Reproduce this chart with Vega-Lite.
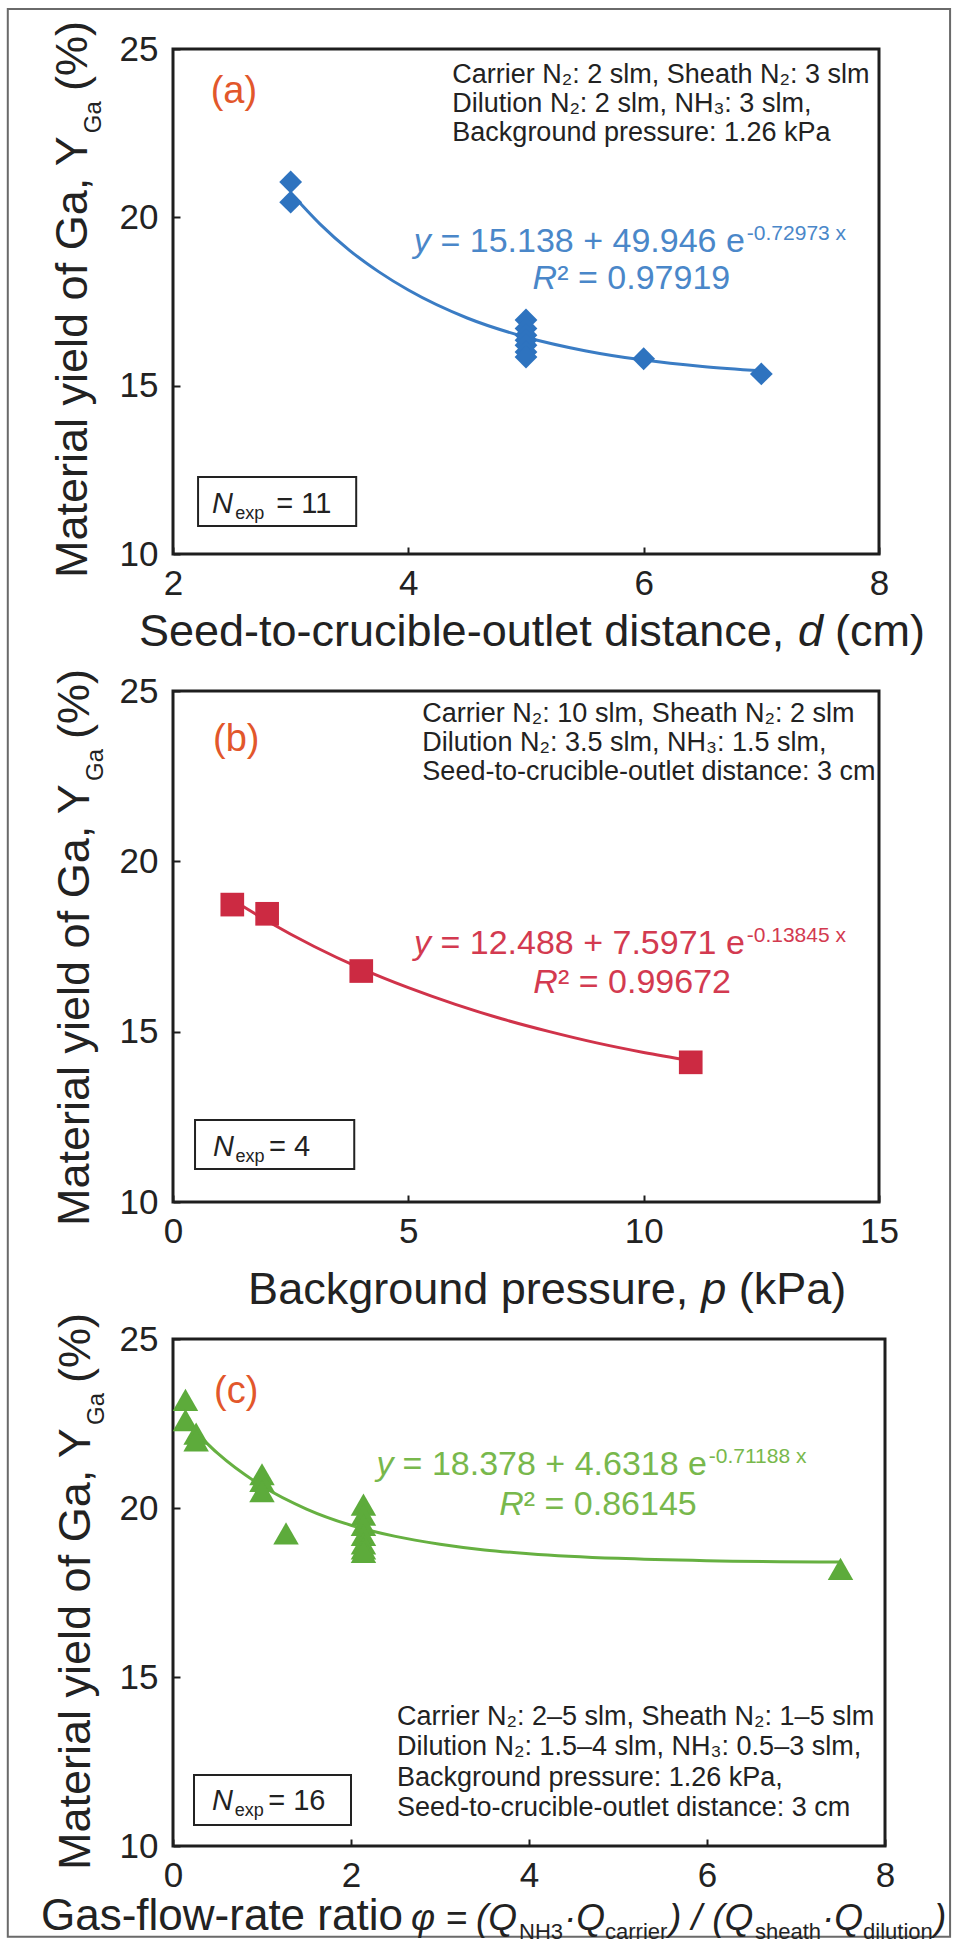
{
  "$schema": "https://vega.github.io/schema/vega-lite/v6.json",
  "background": "white",
  "padding": {"left": 5, "top": 6, "right": 6, "bottom": 6},
  "bounds": "flush",
  "spacing": 137,
  "config": {
    "view": {"stroke": "#1e1e1e", "strokeWidth": 3},
    "font": "Liberation Sans",
    "axis": {
      "domain": false, "grid": false, "ticks": true, "tickSize": -7, "tickWidth": 2, "tickColor": "#1e1e1e",
      "labelFont": "Liberation Sans", "labelFontSize": 35, "labelColor": "#222222", "labelFlush": false, "labelOverlap": false,
      "titleFont": "Liberation Sans", "titleFontSize": 45, "titleFontWeight": "normal", "titleColor": "#222222"
    },
    "axisY": {"labelPadding": 22},
    "axisX": {"labelPadding": 19}
  },
  "datasets": {
    "frame": [{"x":0.596,"x2":8.604,"y":26.186,"y2":-31.075}],
    "fitA": [{"x":3,"y":20.73},{"x":3.25,"y":19.80},{"x":3.5,"y":19.02},{"x":3.75,"y":18.38},{"x":4,"y":17.84},{"x":4.5,"y":17.01},{"x":5,"y":16.44},{"x":5.5,"y":16.04},{"x":6,"y":15.76},{"x":6.5,"y":15.57},{"x":7,"y":15.44}],
    "ptsA": [{"x":3,"y":21.05},{"x":3,"y":20.45},{"x":5,"y":16.95},{"x":5,"y":16.7},{"x":5,"y":16.5},{"x":5,"y":16.35},{"x":5,"y":16.2},{"x":5,"y":16.0},{"x":5,"y":15.85},{"x":6,"y":15.8},{"x":7,"y":15.35}],
    "fitB": [{"x":1.26,"y":18.87},{"x":2,"y":18.25},{"x":3,"y":17.50},{"x":4,"y":16.85},{"x":5,"y":16.29},{"x":6,"y":15.80},{"x":7,"y":15.37},{"x":8,"y":15.00},{"x":9,"y":14.67},{"x":10,"y":14.39},{"x":11,"y":14.15}],
    "ptsB": [{"x":1.26,"y":18.73},{"x":2,"y":18.46},{"x":4,"y":16.78},{"x":11,"y":14.1}],
    "fitC": [{"x":0.1,"y":22.69},{"x":0.5,"y":21.62},{"x":1,"y":20.65},{"x":1.5,"y":19.97},{"x":2,"y":19.49},{"x":2.5,"y":19.16},{"x":3,"y":18.93},{"x":3.5,"y":18.76},{"x":4,"y":18.65},{"x":5,"y":18.51},{"x":6,"y":18.44},{"x":7.5,"y":18.40}],
    "ptsC": [{"x":0.14,"y":23.2},{"x":0.14,"y":22.6},{"x":0.26,"y":22.2},{"x":0.26,"y":22.0},{"x":1.0,"y":21.0},{"x":1.0,"y":20.8},{"x":1.0,"y":20.5},{"x":1.27,"y":19.25},{"x":2.14,"y":20.1},{"x":2.14,"y":19.8},{"x":2.14,"y":19.5},{"x":2.14,"y":19.2},{"x":2.14,"y":18.95},{"x":2.14,"y":18.8},{"x":2.14,"y":18.7},{"x":7.5,"y":18.2}],
    "labA": [{"x":2.32,"y":23.39,"t":"(a)"}],
    "labB": [{"x":0.851,"y":23.24,"t":"(b)"}],
    "labC": [{"x":0.461,"y":23.11,"t":"(c)"}],
    "condA": [{"x":4.374,"y":23.99,"t":"Carrier N₂: 2 slm, Sheath N₂: 3 slm\nDilution N₂: 2 slm, NH₃: 3 slm,\nBackground pressure: 1.26 kPa"}],
    "condB": [{"x":5.298,"y":24.09,"t":"Carrier N₂: 10 slm, Sheath N₂: 2 slm\nDilution N₂: 3.5 slm, NH₃: 1.5 slm,\nSeed-to-crucible-outlet distance: 3 cm"}],
    "condC": [{"x":2.517,"y":13.58,"t":"Carrier N₂: 2–5 slm, Sheath N₂: 1–5 slm\nDilution N₂: 1.5–4 slm, NH₃: 0.5–3 slm,\nBackground pressure: 1.26 kPa,\nSeed-to-crucible-outlet distance: 3 cm"}],
    "eqA": [{"x":6.86,"y":18.97,"t":"= 15.138 + 49.946 e"},{"x":6.736,"y":17.87,"t":"² = 0.97919"}],
    "itA": [{"x":4.191,"y":18.97,"t":"y"}],
    "rA": [{"x":5.055,"y":17.87,"t":"R"}],
    "supA": [{"x":6.877,"y":18.97,"t":"-0.72973 x"}],
    "eqB": [{"x":12.15,"y":17.28,"t":"= 12.488 + 7.5971 e"},{"x":11.856,"y":16.13,"t":"² = 0.99672"}],
    "itB": [{"x":5.479,"y":17.28,"t":"y"}],
    "rB": [{"x":7.654,"y":16.13,"t":"R"}],
    "supB": [{"x":12.19,"y":17.28,"t":"-0.13845 x"}],
    "eqC": [{"x":6.0,"y":20.98,"t":"= 18.378 + 4.6318 e"},{"x":5.885,"y":19.79,"t":"² = 0.86145"}],
    "itC": [{"x":2.478,"y":20.98,"t":"y"}],
    "rC": [{"x":3.666,"y":19.79,"t":"R"}],
    "supC": [{"x":6.02,"y":20.98,"t":"-0.71188 x"}],
    "boxA": [{"x":2.213,"x2":3.557,"y":12.29,"y2":10.83}],
    "boxB": [{"x":0.468,"x2":3.851,"y":12.41,"y2":10.97}],
    "boxC": [{"x":0.236,"x2":2.0,"y":12.10,"y2":10.62}],
    "nA": [{"x":2.332,"y":11.22,"t":"N"}],
    "expA": [{"x":2.53,"y":11.22,"t":"exp"}],
    "numA": [{"x":2.877,"y":11.22,"t":"= 11"}],
    "nB": [{"x":0.851,"y":11.35,"t":"N"}],
    "expB": [{"x":1.33,"y":11.35,"t":"exp"}],
    "numB": [{"x":2.04,"y":11.35,"t":"= 4"}],
    "nC": [{"x":0.438,"y":11.07,"t":"N"}],
    "expC": [{"x":0.695,"y":11.07,"t":"exp"}],
    "numC": [{"x":1.07,"y":11.07,"t":"= 16"}],
    "ytA": [{"x":1.268,"y":9.287,"t":"Material yield of Ga, Y"},{"x":1.268,"y":23.75,"t":"(%)"}],
    "ysA": [{"x":1.387,"y":22.50,"t":"Ga"}],
    "ytB": [{"x":-1.787,"y":9.296,"t":"Material yield of Ga, Y"},{"x":-1.787,"y":23.59,"t":"(%)"}],
    "ysB": [{"x":-1.489,"y":22.357,"t":"Ga"}],
    "ytC": [{"x":-0.933,"y":9.29,"t":"Material yield of Ga, Y"},{"x":-0.933,"y":23.698,"t":"(%)"}],
    "ysC": [{"x":-0.775,"y":22.456,"t":"Ga"}],
    "xtA": [{"x":1.711,"y":7.268,"t":"Seed-to-crucible-outlet distance,"},{"x":7.626,"y":7.268,"t":"(cm)"}],
    "xiA": [{"x":7.311,"y":7.268,"t":"d"}],
    "xtB": [{"x":1.596,"y":7.006,"t":"Background pressure,"},{"x":12.021,"y":7.006,"t":"(kPa)"}],
    "xiB": [{"x":11.223,"y":7.006,"t":"p"}],
    "xtC": [{"x":-1.483,"y":7.515,"t":"Gas-flow-rate ratio"}],
    "xfC": [{"x":2.674,"y":7.515,"t":"φ ="},{"x":3.404,"y":7.515,"t":"(Q"},{"x":4.393,"y":7.515,"t":"·Q"},{"x":5.573,"y":7.515,"t":") / (Q"},{"x":7.292,"y":7.515,"t":"·Q"},{"x":8.551,"y":7.515,"t":")"}],
    "xsC": [{"x":3.888,"y":7.515,"t":"NH3"},{"x":4.854,"y":7.515,"t":"carrier"},{"x":6.539,"y":7.515,"t":"sheath"},{"x":7.753,"y":7.515,"t":"dilution"}]
  },
  "vconcat": [
    {
      "width": 706, "height": 505,
      "encoding": {
        "x": {"field": "x", "type": "quantitative", "scale": {"domain": [2, 8], "nice": false, "zero": false}, "axis": {"values": [2, 4, 6, 8], "title": null}},
        "y": {"field": "y", "type": "quantitative", "scale": {"domain": [10, 25], "nice": false, "zero": false}, "axis": {"values": [10, 15, 20, 25], "title": null}}
      },
      "layer": [
        {"data": {"name": "frame"}, "mark": {"type": "rect", "fill": "white", "fillOpacity": 0, "stroke": "#6a6a6a", "strokeWidth": 2}, "encoding": {"x2": {"field": "x2"}, "y2": {"field": "y2"}}},
        {"data": {"name": "fitA"}, "mark": {"type": "line", "color": "#3a7cc4", "strokeWidth": 3, "interpolate": "monotone"}},
        {"data": {"name": "ptsA"}, "mark": {"type": "point", "shape": "diamond", "filled": true, "size": 520, "color": "#2e73bf", "opacity": 1}},
        {"data": {"name": "labA"}, "mark": {"type": "text", "align": "left", "baseline": "alphabetic", "fontSize": 38, "color": "#e2572b"}, "encoding": {"text": {"field": "t"}}},
        {"data": {"name": "condA"}, "mark": {"type": "text", "align": "left", "baseline": "alphabetic", "fontSize": 27, "lineBreak": "\n", "lineHeight": 29, "color": "#222222"}, "encoding": {"text": {"field": "t"}}},
        {"data": {"name": "eqA"}, "mark": {"type": "text", "align": "right", "baseline": "alphabetic", "fontSize": 34, "color": "#4a87c9"}, "encoding": {"text": {"field": "t"}}},
        {"data": {"name": "itA"}, "mark": {"type": "text", "align": "right", "baseline": "alphabetic", "fontSize": 34, "fontStyle": "italic", "color": "#4a87c9"}, "encoding": {"text": {"field": "t"}}},
        {"data": {"name": "rA"}, "mark": {"type": "text", "align": "left", "baseline": "alphabetic", "fontSize": 34, "fontStyle": "italic", "color": "#4a87c9"}, "encoding": {"text": {"field": "t"}}},
        {"data": {"name": "supA"}, "mark": {"type": "text", "align": "left", "baseline": "alphabetic", "fontSize": 21, "dy": -12, "color": "#4a87c9"}, "encoding": {"text": {"field": "t"}}},
        {"data": {"name": "boxA"}, "mark": {"type": "rect", "fill": "white", "stroke": "#222222", "strokeWidth": 2}, "encoding": {"x2": {"field": "x2"}, "y2": {"field": "y2"}}},
        {"data": {"name": "nA"}, "mark": {"type": "text", "align": "left", "baseline": "alphabetic", "fontSize": 29, "fontStyle": "italic", "color": "#222222"}, "encoding": {"text": {"field": "t"}}},
        {"data": {"name": "expA"}, "mark": {"type": "text", "align": "left", "baseline": "alphabetic", "fontSize": 18, "dy": 6, "color": "#222222"}, "encoding": {"text": {"field": "t"}}},
        {"data": {"name": "numA"}, "mark": {"type": "text", "align": "left", "baseline": "alphabetic", "fontSize": 29, "color": "#222222"}, "encoding": {"text": {"field": "t"}}},
        {"data": {"name": "ytA"}, "mark": {"type": "text", "align": "left", "baseline": "alphabetic", "angle": 270, "fontSize": 45, "color": "#222222"}, "encoding": {"text": {"field": "t"}}},
        {"data": {"name": "ysA"}, "mark": {"type": "text", "align": "left", "baseline": "alphabetic", "angle": 270, "fontSize": 24, "color": "#222222"}, "encoding": {"text": {"field": "t"}}},
        {"data": {"name": "xtA"}, "mark": {"type": "text", "align": "left", "baseline": "alphabetic", "fontSize": 45, "color": "#222222"}, "encoding": {"text": {"field": "t"}}},
        {"data": {"name": "xiA"}, "mark": {"type": "text", "align": "left", "baseline": "alphabetic", "fontSize": 45, "fontStyle": "italic", "color": "#222222"}, "encoding": {"text": {"field": "t"}}}
      ]
    },
    {
      "width": 706, "height": 511,
      "encoding": {
        "x": {"field": "x", "type": "quantitative", "scale": {"domain": [0, 15], "nice": false}, "axis": {"values": [0, 5, 10, 15], "title": null}},
        "y": {"field": "y", "type": "quantitative", "scale": {"domain": [10, 25], "nice": false, "zero": false}, "axis": {"values": [10, 15, 20, 25], "title": null}}
      },
      "layer": [
        {"data": {"name": "fitB"}, "mark": {"type": "line", "color": "#d0334a", "strokeWidth": 3, "interpolate": "monotone"}},
        {"data": {"name": "ptsB"}, "mark": {"type": "point", "shape": "square", "filled": true, "size": 560, "color": "#cc2a42", "opacity": 1}},
        {"data": {"name": "labB"}, "mark": {"type": "text", "align": "left", "baseline": "alphabetic", "fontSize": 38, "color": "#e2572b"}, "encoding": {"text": {"field": "t"}}},
        {"data": {"name": "condB"}, "mark": {"type": "text", "align": "left", "baseline": "alphabetic", "fontSize": 27, "lineBreak": "\n", "lineHeight": 29, "color": "#222222"}, "encoding": {"text": {"field": "t"}}},
        {"data": {"name": "eqB"}, "mark": {"type": "text", "align": "right", "baseline": "alphabetic", "fontSize": 34, "color": "#d33a50"}, "encoding": {"text": {"field": "t"}}},
        {"data": {"name": "itB"}, "mark": {"type": "text", "align": "right", "baseline": "alphabetic", "fontSize": 34, "fontStyle": "italic", "color": "#d33a50"}, "encoding": {"text": {"field": "t"}}},
        {"data": {"name": "rB"}, "mark": {"type": "text", "align": "left", "baseline": "alphabetic", "fontSize": 34, "fontStyle": "italic", "color": "#d33a50"}, "encoding": {"text": {"field": "t"}}},
        {"data": {"name": "supB"}, "mark": {"type": "text", "align": "left", "baseline": "alphabetic", "fontSize": 21, "dy": -12, "color": "#d33a50"}, "encoding": {"text": {"field": "t"}}},
        {"data": {"name": "boxB"}, "mark": {"type": "rect", "fill": "white", "stroke": "#222222", "strokeWidth": 2}, "encoding": {"x2": {"field": "x2"}, "y2": {"field": "y2"}}},
        {"data": {"name": "nB"}, "mark": {"type": "text", "align": "left", "baseline": "alphabetic", "fontSize": 29, "fontStyle": "italic", "color": "#222222"}, "encoding": {"text": {"field": "t"}}},
        {"data": {"name": "expB"}, "mark": {"type": "text", "align": "left", "baseline": "alphabetic", "fontSize": 18, "dy": 6, "color": "#222222"}, "encoding": {"text": {"field": "t"}}},
        {"data": {"name": "numB"}, "mark": {"type": "text", "align": "left", "baseline": "alphabetic", "fontSize": 29, "color": "#222222"}, "encoding": {"text": {"field": "t"}}},
        {"data": {"name": "ytB"}, "mark": {"type": "text", "align": "left", "baseline": "alphabetic", "angle": 270, "fontSize": 45, "color": "#222222"}, "encoding": {"text": {"field": "t"}}},
        {"data": {"name": "ysB"}, "mark": {"type": "text", "align": "left", "baseline": "alphabetic", "angle": 270, "fontSize": 24, "color": "#222222"}, "encoding": {"text": {"field": "t"}}},
        {"data": {"name": "xtB"}, "mark": {"type": "text", "align": "left", "baseline": "alphabetic", "fontSize": 45, "color": "#222222"}, "encoding": {"text": {"field": "t"}}},
        {"data": {"name": "xiB"}, "mark": {"type": "text", "align": "left", "baseline": "alphabetic", "fontSize": 45, "fontStyle": "italic", "color": "#222222"}, "encoding": {"text": {"field": "t"}}}
      ]
    },
    {
      "width": 712, "height": 507,
      "encoding": {
        "x": {"field": "x", "type": "quantitative", "scale": {"domain": [0, 8], "nice": false}, "axis": {"values": [0, 2, 4, 6, 8], "title": null}},
        "y": {"field": "y", "type": "quantitative", "scale": {"domain": [10, 25], "nice": false, "zero": false}, "axis": {"values": [10, 15, 20, 25], "title": null}}
      },
      "layer": [
        {"data": {"name": "fitC"}, "mark": {"type": "line", "color": "#66b041", "strokeWidth": 3, "interpolate": "monotone"}},
        {"data": {"name": "ptsC"}, "mark": {"type": "point", "shape": "triangle-up", "filled": true, "size": 650, "color": "#5dab3b", "opacity": 1}},
        {"data": {"name": "labC"}, "mark": {"type": "text", "align": "left", "baseline": "alphabetic", "fontSize": 38, "color": "#e2572b"}, "encoding": {"text": {"field": "t"}}},
        {"data": {"name": "condC"}, "mark": {"type": "text", "align": "left", "baseline": "alphabetic", "fontSize": 27, "lineBreak": "\n", "lineHeight": 30.5, "color": "#222222"}, "encoding": {"text": {"field": "t"}}},
        {"data": {"name": "eqC"}, "mark": {"type": "text", "align": "right", "baseline": "alphabetic", "fontSize": 34, "color": "#78b84c"}, "encoding": {"text": {"field": "t"}}},
        {"data": {"name": "itC"}, "mark": {"type": "text", "align": "right", "baseline": "alphabetic", "fontSize": 34, "fontStyle": "italic", "color": "#78b84c"}, "encoding": {"text": {"field": "t"}}},
        {"data": {"name": "rC"}, "mark": {"type": "text", "align": "left", "baseline": "alphabetic", "fontSize": 34, "fontStyle": "italic", "color": "#78b84c"}, "encoding": {"text": {"field": "t"}}},
        {"data": {"name": "supC"}, "mark": {"type": "text", "align": "left", "baseline": "alphabetic", "fontSize": 21, "dy": -12, "color": "#78b84c"}, "encoding": {"text": {"field": "t"}}},
        {"data": {"name": "boxC"}, "mark": {"type": "rect", "fill": "white", "stroke": "#222222", "strokeWidth": 2}, "encoding": {"x2": {"field": "x2"}, "y2": {"field": "y2"}}},
        {"data": {"name": "nC"}, "mark": {"type": "text", "align": "left", "baseline": "alphabetic", "fontSize": 29, "fontStyle": "italic", "color": "#222222"}, "encoding": {"text": {"field": "t"}}},
        {"data": {"name": "expC"}, "mark": {"type": "text", "align": "left", "baseline": "alphabetic", "fontSize": 18, "dy": 6, "color": "#222222"}, "encoding": {"text": {"field": "t"}}},
        {"data": {"name": "numC"}, "mark": {"type": "text", "align": "left", "baseline": "alphabetic", "fontSize": 29, "color": "#222222"}, "encoding": {"text": {"field": "t"}}},
        {"data": {"name": "ytC"}, "mark": {"type": "text", "align": "left", "baseline": "alphabetic", "angle": 270, "fontSize": 45, "color": "#222222"}, "encoding": {"text": {"field": "t"}}},
        {"data": {"name": "ysC"}, "mark": {"type": "text", "align": "left", "baseline": "alphabetic", "angle": 270, "fontSize": 24, "color": "#222222"}, "encoding": {"text": {"field": "t"}}},
        {"data": {"name": "xtC"}, "mark": {"type": "text", "align": "left", "baseline": "alphabetic", "fontSize": 44, "color": "#222222"}, "encoding": {"text": {"field": "t"}}},
        {"data": {"name": "xfC"}, "mark": {"type": "text", "align": "left", "baseline": "alphabetic", "fontSize": 37, "fontStyle": "italic", "color": "#222222"}, "encoding": {"text": {"field": "t"}}},
        {"data": {"name": "xsC"}, "mark": {"type": "text", "align": "left", "baseline": "alphabetic", "fontSize": 22, "dy": 9, "color": "#222222"}, "encoding": {"text": {"field": "t"}}}
      ]
    }
  ]
}
